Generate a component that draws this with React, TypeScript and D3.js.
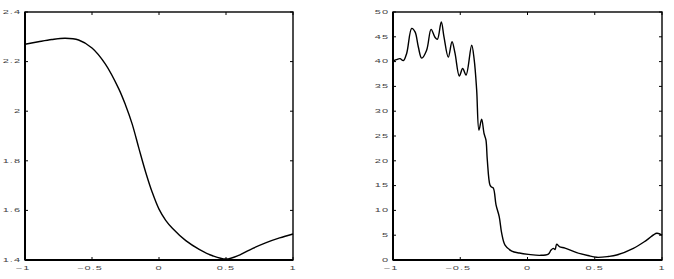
import React from "react";
import * as d3 from "d3";

const leftX = [-1, -0.9, -0.8, -0.7, -0.6, -0.5, -0.4, -0.3, -0.25, -0.2, -0.15, -0.1, -0.05, 0, 0.05, 0.1, 0.2, 0.3, 0.4, 0.5, 0.6, 0.7, 0.8, 0.9, 1.0];
const leftY = [2.27, 2.28, 2.289, 2.294, 2.287, 2.255, 2.19, 2.09, 2.025, 1.948, 1.85, 1.755, 1.672, 1.605, 1.56, 1.528, 1.478, 1.443, 1.417, 1.404, 1.42, 1.447, 1.47, 1.489, 1.505];

const rightX = [-1, -0.975, -0.948, -0.923, -0.898, -0.861, -0.836, -0.812, -0.787, -0.75, -0.717, -0.688, -0.67, -0.641, -0.621, -0.589, -0.561, -0.539, -0.507, -0.482, -0.457, -0.415, -0.396, -0.378, -0.361, -0.341, -0.323, -0.309, -0.299, -0.279, -0.268, -0.254, -0.234, -0.21, -0.192, -0.167, -0.117, -0.06, 0.006, 0.093, 0.155, 0.175, 0.192, 0.205, 0.217, 0.237, 0.279, 0.366, 0.45, 0.514, 0.6, 0.663, 0.787, 0.886, 0.961, 1.0];
const rightY = [40.1, 40.4, 40.6, 40.2, 41.7, 46.7, 46.0, 43.0, 40.7, 42.3, 46.5, 44.9, 44.5, 48.0, 45.0, 40.9, 44.0, 41.7, 37.1, 38.6, 37.3, 43.3, 40.3, 34.3, 26.2, 28.4, 25.5, 24.2, 20.2, 15.1, 14.7, 14.5, 11.1, 8.7, 5.4, 3.0, 1.8, 1.4, 1.14, 0.94, 1.2, 2.0, 2.35, 2.1, 3.2, 2.7, 2.4, 1.5, 0.9, 0.54, 0.7, 1.0, 2.35, 4.0, 5.4, 5.0];

const xTicks = [-1, -0.5, 0, 0.5, 1];
const leftYTicks = [1.4, 1.6, 1.8, 2, 2.2, 2.4];
const rightYTicks = [0, 5, 10, 15, 20, 25, 30, 35, 40, 45, 50];

const fmt = (v: number) => (v < 0 ? "\u2212" + String(Math.abs(v)) : String(v));

const fontStyle = {
  fontFamily: "Liberation Sans, Arial, sans-serif",
  fontSize: 11,
  letterSpacing: 1,
  fill: "#444",
};

function Label({ x, y, anchor, children }: any) {
  return (
    <text transform={`translate(${x},${y}) scale(1,0.5)`} textAnchor={anchor} dominantBaseline="central" style={fontStyle}>
      {children}
    </text>
  );
}

function Panel({ x0, x1, y0, y1, xs, ys, yDomain, yTicks }: any) {
  const xs_ = d3.scaleLinear().domain([-1, 1]).range([x0, x1]);
  const ys_ = d3.scaleLinear().domain(yDomain).range([y1, y0]);
  const line = d3
    .line<number>()
    .x((_, i) => xs_(xs[i]))
    .y((d) => ys_(d))
    .curve(d3.curveCatmullRom.alpha(0.5));
  const tl = 3;
  return (
    <g>
      <path d={line(ys) || ""} fill="none" stroke="#000" strokeWidth={1.4} />
      {xTicks.map((t) => (
        <g key={"x" + t}>
          <line x1={xs_(t)} x2={xs_(t)} y1={y1} y2={y1 - tl} stroke="#000" strokeWidth={1} />
          <line x1={xs_(t)} x2={xs_(t)} y1={y0} y2={y0 + tl} stroke="#000" strokeWidth={1} />
          <Label x={xs_(t) - (t < 0 ? 2 : 0)} y={y1 + 8} anchor="middle">
            {fmt(t)}
          </Label>
        </g>
      ))}
      {yTicks.map((t: number) => (
        <g key={"y" + t}>
          <line x1={x0} x2={x0 + tl} y1={ys_(t)} y2={ys_(t)} stroke="#000" strokeWidth={1} />
          <line x1={x1} x2={x1 - tl} y1={ys_(t)} y2={ys_(t)} stroke="#000" strokeWidth={1} />
          <Label x={x0 - 4} y={ys_(t)} anchor="end">
            {fmt(t)}
          </Label>
        </g>
      ))}
      <rect x={x0} y={y0} width={x1 - x0} height={y1 - y0} fill="none" stroke="#000" strokeWidth={1.4} />
      <line x1={x0} x2={x0} y1={y0} y2={y1} stroke="#000" strokeWidth={2} />
      <line x1={x0} x2={x1} y1={y1} y2={y1} stroke="#000" strokeWidth={2} />
    </g>
  );
}

export default function App() {
  return (
    <svg width={674} height={279} style={{ position: "absolute", left: 0, top: 0, background: "#fff" }}>
      <Panel x0={25} x1={293} y0={12} y1={260} xs={leftX} ys={leftY} yDomain={[1.4, 2.4]} yTicks={leftYTicks} />
      <Panel x0={393} x1={662} y0={12} y1={260} xs={rightX} ys={rightY} yDomain={[0, 50]} yTicks={rightYTicks} />
    </svg>
  );
}
